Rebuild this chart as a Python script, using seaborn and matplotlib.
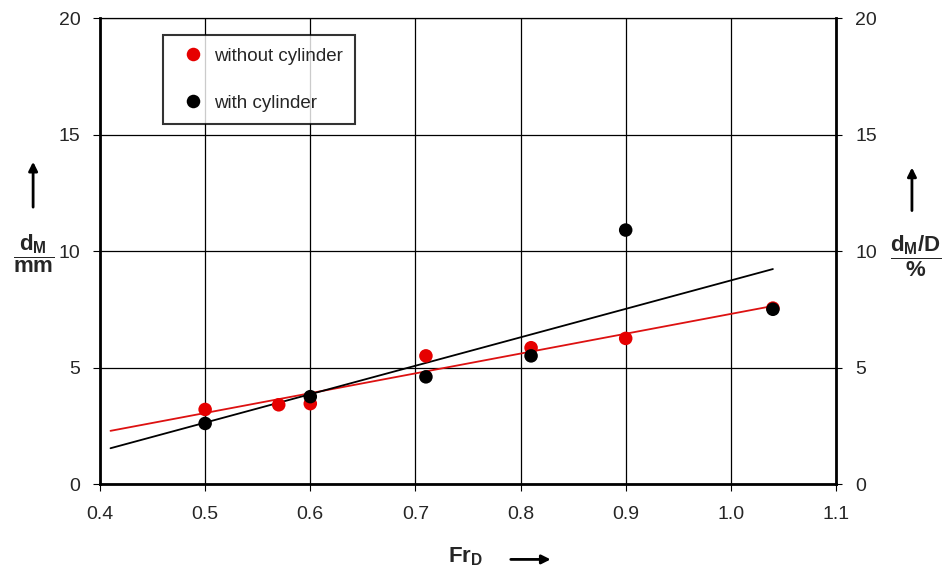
import numpy as np
import pandas as pd
import matplotlib
matplotlib.use("Agg")
import matplotlib.pyplot as plt
from matplotlib.patches import FancyArrowPatch
import seaborn as sns

# data
fr_without = [0.50, 0.57, 0.60, 0.71, 0.81, 0.90, 1.04]
dm_without = [3.2, 3.4, 3.45, 5.5, 5.85, 6.25, 7.55]
fr_with = [0.50, 0.60, 0.71, 0.81, 0.90, 1.04]
dm_with = [2.6, 3.75, 4.6, 5.5, 10.9, 7.5]

x_ticks = [0.4, 0.5, 0.6, 0.7, 0.8, 0.9, 1.0, 1.1]
y_ticks = [0, 5, 10, 15, 20]
fit_range = [0.41, 1.04]

sns.set_style("white")
plt.rcParams['font.family'] = ['Liberation Sans', 'DejaVu Sans']
plt.rcParams['mathtext.fontset'] = 'custom'
plt.rcParams['mathtext.rm'] = 'Liberation Sans'
plt.rcParams['mathtext.bf'] = 'Liberation Sans:bold'

df = pd.concat([
    pd.DataFrame({'Fr': fr_without, 'dM': dm_without, 'case': 'without cylinder'}),
    pd.DataFrame({'Fr': fr_with, 'dM': dm_with, 'case': 'with cylinder'}),
])
colors = {'without cylinder': '#e60000', 'with cylinder': 'black'}

fig = plt.figure(figsize=(9.46, 5.72), dpi=100)
ax = fig.add_axes([0.1057, 0.1538, 0.778, 0.8147])

# linear fits
for case, c in [('without cylinder', '#dd1111'), ('with cylinder', 'black')]:
    sub = df[df.case == case]
    k, b = np.polyfit(sub.Fr, sub.dM, 1)
    xs = np.array(fit_range)
    sns.lineplot(x=xs, y=k * xs + b, color=c, lw=1.3, ax=ax, zorder=3)

sns.scatterplot(data=df, x='Fr', y='dM', hue='case', palette=colors, s=95,
                edgecolor='none', ax=ax, zorder=4)

ax.set_xlim(0.4, 1.1)
ax.set_ylim(0, 20)
ax.set_xticks(x_ticks)
ax.set_xticklabels([f"{v:.1f}" for v in x_ticks])
ax.set_yticks(y_ticks)
ax.grid(True, color='black', lw=0.9)
ax.set_xlabel('')
ax.set_ylabel('')
for s in ['left', 'bottom', 'right']:
    ax.spines[s].set_linewidth(2)
    ax.spines[s].set_color('black')
ax.spines['top'].set_linewidth(0.9)
ax.spines['top'].set_color('black')
ax.tick_params(axis='both', direction='out', length=5, width=0.8, color='black',
               labelsize=14, bottom=True, left=True)
ax.tick_params(axis='x', pad=11)
ax.tick_params(axis='y', pad=9)

ax2 = ax.twinx()
ax2.set_ylim(0, 20)
ax2.set_yticks(y_ticks)
ax2.tick_params(axis='y', direction='out', length=4, width=0.8, color='black',
                labelsize=14, right=True, pad=10)
for s in ax2.spines.values():
    s.set_visible(False)

leg = ax.legend(loc='upper left', bbox_to_anchor=(0.085, 0.963), frameon=True,
                fancybox=False, edgecolor='black', fontsize=13.5, labelspacing=1.6,
                borderpad=0.65, handletextpad=0.1, markerscale=1.0,
                borderaxespad=0, title=None)
leg.get_frame().set_linewidth(1.5)
leg.set_zorder(6)

# axis labels drawn as in the reference
fig.text(0.036, 0.557, r'$\mathbf{\dfrac{d_M}{mm}}$', fontsize=16, ha='center', va='center')
fig.text(0.968, 0.552, r'$\mathbf{\dfrac{d_M/D}{\%}}$', fontsize=16, ha='center', va='center')
fig.text(0.492, 0.026, r'$\mathbf{Fr_D}$', fontsize=16, ha='center', va='center')

arrows = [((0.035, 0.633), (0.035, 0.722)),
          ((0.964, 0.627), (0.964, 0.712)),
          ((0.537, 0.022), (0.585, 0.022))]
for p0, p1 in arrows:
    fig.add_artist(FancyArrowPatch(p0, p1, transform=fig.transFigure, arrowstyle='-|>',
                                   mutation_scale=13, lw=2, color='black'))

fig.savefig('out.png', dpi=100)
